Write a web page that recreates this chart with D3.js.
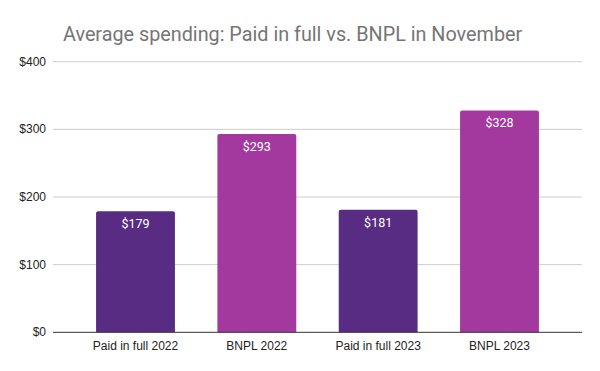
<!DOCTYPE html>
<html>
<head>
<meta charset="utf-8">
<script src="https://cdn.jsdelivr.net/npm/d3@7"></script>
<style>
  body { margin: 0; background: #fff; }
  svg { display: block; font-family: Roboto, Arial, sans-serif; }
</style>
</head>
<body>
<svg id="svg" width="600" height="371"></svg>
<script>
// chart data
const categories = ['Paid in full 2022', 'BNPL 2022', 'Paid in full 2023', 'BNPL 2023'];
const values = [179, 293, 181, 328];
const barColors = ['#572c82', '#a3389e', '#572c82', '#a3389e'];
const yTicks = [0, 100, 200, 300, 400];
const title = 'Average spending: Paid in full vs. BNPL in November';

const svg = d3.select('#svg');
const plotLeft = 53, plotRight = 582, plotTop = 61.7, plotBottom = 332.3;
const axisFont = 'Arial, "Liberation Sans", sans-serif';

const x = d3.scaleBand()
    .domain(categories)
    .range([plotLeft, plotRight])
    .paddingInner(0.35)
    .paddingOuter(0.355);

const y = d3.scaleLinear()
    .domain([0, 400])
    .range([plotBottom, plotTop]);

// title
svg.append('text')
   .attr('x', 63)
   .attr('y', 41)
   .attr('fill', '#757575')
   .style('font-size', '19.8px')
   .text(title);

// gridlines
svg.append('g')
   .selectAll('line')
   .data(yTicks.filter(d => d > 0))
   .join('line')
   .attr('x1', plotLeft).attr('x2', plotRight)
   .attr('y1', d => y(d)).attr('y2', d => y(d))
   .attr('stroke', '#cccccc')
   .attr('stroke-width', 1);

// y tick labels
svg.append('g')
   .selectAll('text')
   .data(yTicks)
   .join('text')
   .attr('x', 46)
   .attr('y', d => y(d) + 4)
   .attr('text-anchor', 'end')
   .attr('fill', '#222')
   .style('font-family', axisFont)
   .style('font-size', '12px')
   .text(d => '$' + d);

// bars
svg.append('g')
   .selectAll('path')
   .data(values)
   .join('path')
   .attr('fill', (d, i) => barColors[i])
   .attr('d', (d, i) => {
       const x0 = x(categories[i]), w = x.bandwidth(), y0 = y(d), r = 2;
       return `M${x0},${plotBottom}V${y0 + r}Q${x0},${y0} ${x0 + r},${y0}H${x0 + w - r}Q${x0 + w},${y0} ${x0 + w},${y0 + r}V${plotBottom}Z`;
   });

// value labels
svg.append('g')
   .selectAll('text')
   .data(values)
   .join('text')
   .attr('x', (d, i) => x(categories[i]) + x.bandwidth() / 2)
   .attr('y', d => y(d) + 17)
   .attr('text-anchor', 'middle')
   .attr('fill', '#ffffff')
   .style('font-size', '12.5px')
   .text(d => '$' + d);

// baseline
svg.append('line')
   .attr('x1', plotLeft).attr('x2', plotRight)
   .attr('y1', plotBottom).attr('y2', plotBottom)
   .attr('stroke', '#333')
   .attr('stroke-width', 1);

// category labels
svg.append('g')
   .selectAll('text')
   .data(categories)
   .join('text')
   .attr('x', d => x(d) + x.bandwidth() / 2)
   .attr('y', 350)
   .attr('text-anchor', 'middle')
   .attr('fill', '#222')
   .style('font-family', axisFont)
   .style('font-size', '12px')
   .text(d => d);
</script>
</body>
</html>
